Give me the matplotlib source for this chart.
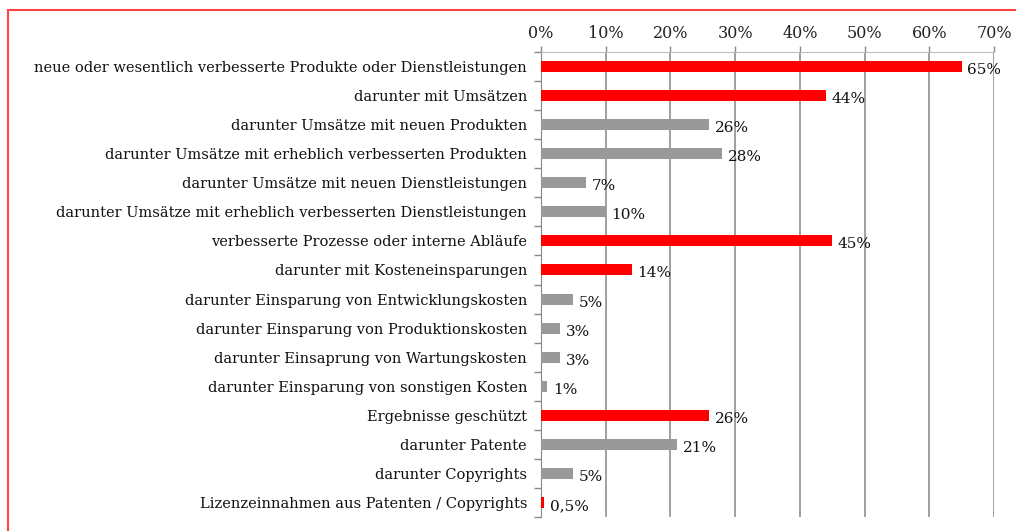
import matplotlib
matplotlib.use("Agg")
import matplotlib.pyplot as plt
from matplotlib.patches import Rectangle
import numpy as np

categories = [
    "neue oder wesentlich verbesserte Produkte oder Dienstleistungen",
    "darunter mit Umsätzen",
    "darunter Umsätze mit neuen Produkten",
    "darunter Umsätze mit erheblich verbesserten Produkten",
    "darunter Umsätze mit neuen Dienstleistungen",
    "darunter Umsätze mit erheblich verbesserten Dienstleistungen",
    "verbesserte Prozesse oder interne Abläufe",
    "darunter mit Kosteneinsparungen",
    "darunter Einsparung von Entwicklungskosten",
    "darunter Einsparung von Produktionskosten",
    "darunter Einsaprung von Wartungskosten",
    "darunter Einsparung von sonstigen Kosten",
    "Ergebnisse geschützt",
    "darunter Patente",
    "darunter Copyrights",
    "Lizenzeinnahmen aus Patenten / Copyrights",
]
values = [65, 44, 26, 28, 7, 10, 45, 14, 5, 3, 3, 1, 26, 21, 5, 0.5]
value_labels = ["65%", "44%", "26%", "28%", "7%", "10%", "45%", "14%",
                "5%", "3%", "3%", "1%", "26%", "21%", "5%", "0,5%"]
is_main = [True, True, False, False, False, False, True, True,
           False, False, False, False, True, False, False, True]
x_ticks = [0, 10, 20, 30, 40, 50, 60, 70]
x_tick_labels = ["0%", "10%", "20%", "30%", "40%", "50%", "60%", "70%"]

RED = "#ff0000"
GRAY = "#999999"
FONT = "DejaVu Serif"

fig = plt.figure(figsize=(10.16, 5.31), dpi=100)
ax = fig.add_axes([541/1016, 1 - 517/531, (994-541)/1016, (517-52)/531])

n = len(categories)
y = np.arange(n)
colors = [RED if m else GRAY for m in is_main]
ax.barh(y, values, height=0.38, color=colors, zorder=3)
ax.set_ylim(n - 0.5, -0.5)
ax.set_xlim(0, 70)

ax.xaxis.tick_top()
ax.set_xticks(x_ticks)
ax.set_xticklabels(x_tick_labels, fontsize=11.5, family=FONT, color="#222222")
ax.tick_params(axis="x", length=4, width=1, color="#888888", pad=3)
ax.grid(axis="x", color="#999999", linewidth=1.3, zorder=0)

ax.set_yticks(y)
ax.set_yticklabels(categories, fontsize=10.5, family=FONT, color="#111111")
ax.tick_params(axis="y", length=0, pad=10)
ax.set_yticks(np.arange(n + 1) - 0.5, minor=True)
ax.tick_params(axis="y", which="minor", length=5, width=1, color="#888888")

for s in ["right", "bottom"]:
    ax.spines[s].set_visible(False)
ax.spines["left"].set_color("#888888")
ax.spines["top"].set_color("#bbbbbb")
ax.spines["top"].set_linewidth(0.8)

for yi, v, lab in zip(y, values, value_labels):
    ax.annotate(lab, (v, yi), xytext=(4, -2.5), textcoords="offset points",
                ha="left", va="center", fontsize=11, family=FONT, color="#111111",
                zorder=4)

fig.patches.append(Rectangle((8/1016, -0.1), 1.2, 1 - 10/531 + 0.1,
                             transform=fig.transFigure, fill=False,
                             edgecolor="#ff4444", linewidth=1.5))

fig.savefig("out.png", dpi=100)
